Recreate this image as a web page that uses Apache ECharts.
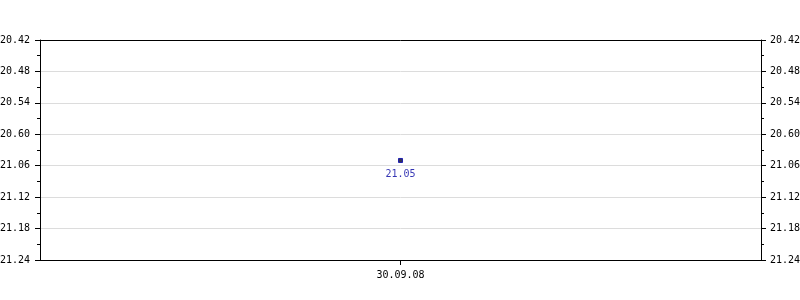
<!DOCTYPE html>
<html>
<head>
<meta charset="utf-8">
<script src="https://cdn.jsdelivr.net/npm/echarts@6/dist/echarts.min.js"></script>
<style>html,body{margin:0;padding:0;background:#fff;}#c{width:800px;height:300px;}</style>
</head>
<body>
<div id="c"></div>
<script>
const categories = ['30.09.08'];
const values = [21.05];
const tickLabels = ['20.42','20.48','20.54','20.60','21.06','21.12','21.18','21.24'];

// values are "hours.minutes" style: fractional part counts in sixtieths
function toScale(v) {
  const w = Math.floor(v + 1e-9);
  return w * 60 + Math.round((v - w) * 100);
}
const axisMin = toScale(parseFloat(tickLabels[0]));
const axisMax = toScale(parseFloat(tickLabels[tickLabels.length - 1]));
const axisInterval = 6;

function fmt(v) {
  const i = Math.round((v - axisMin) / axisInterval);
  return tickLabels[i] !== undefined ? tickLabels[i] : '';
}

const font = 'DejaVu Sans Mono';
function yAxis(pos, showSplit, margin) {
  return {
    type: 'value', position: pos, inverse: true,
    min: axisMin, max: axisMax, interval: axisInterval,
    axisLine: { show: true, lineStyle: { color: '#000', width: 1 } },
    axisTick: { show: true, length: 5, lineStyle: { color: '#000' } },
    minorTick: { show: true, splitNumber: 2, length: 3, lineStyle: { color: '#000' } },
    splitLine: { show: showSplit, lineStyle: { color: '#dcdcdc', width: 1 } },
    axisLabel: { formatter: fmt, color: '#000', fontFamily: font, fontSize: 10, margin: margin }
  };
}

const chart = echarts.init(document.getElementById('c'), null, { renderer: 'canvas' });
chart.setOption({
  animation: false,
  backgroundColor: '#fff',
  grid: { left: 40, right: 39, top: 40, bottom: 40, containLabel: false, outerBoundsMode: 'none', show: false },
  xAxis: [{
    type: 'category', data: categories, boundaryGap: true, position: 'bottom',
    axisLine: { show: true, lineStyle: { color: '#000' } },
    axisTick: { show: true, alignWithLabel: true, length: 5, lineStyle: { color: '#000' } },
    axisLabel: { color: '#000', fontFamily: font, fontSize: 10, margin: 10 },
    splitLine: { show: false }
  }, {
    type: 'category', data: categories, boundaryGap: true, position: 'top',
    axisLine: { show: true, lineStyle: { color: '#000' } },
    axisTick: { show: false }, axisLabel: { show: false }, splitLine: { show: false }
  }],
  yAxis: [yAxis('left', true, 10), yAxis('right', false, 9)],
  series: [{
    type: 'scatter',
    data: values.map(v => toScale(v)),
    symbol: 'rect',
    symbolSize: 4,
    itemStyle: { color: '#000030', borderColor: '#0000b0', borderWidth: 1 },
    label: {
      show: true, position: 'bottom', distance: 6,
      formatter: p => values[p.dataIndex].toFixed(2),
      color: '#0000a0', fontFamily: font, fontSize: 10
    }
  }]
});
</script>
</body>
</html>
